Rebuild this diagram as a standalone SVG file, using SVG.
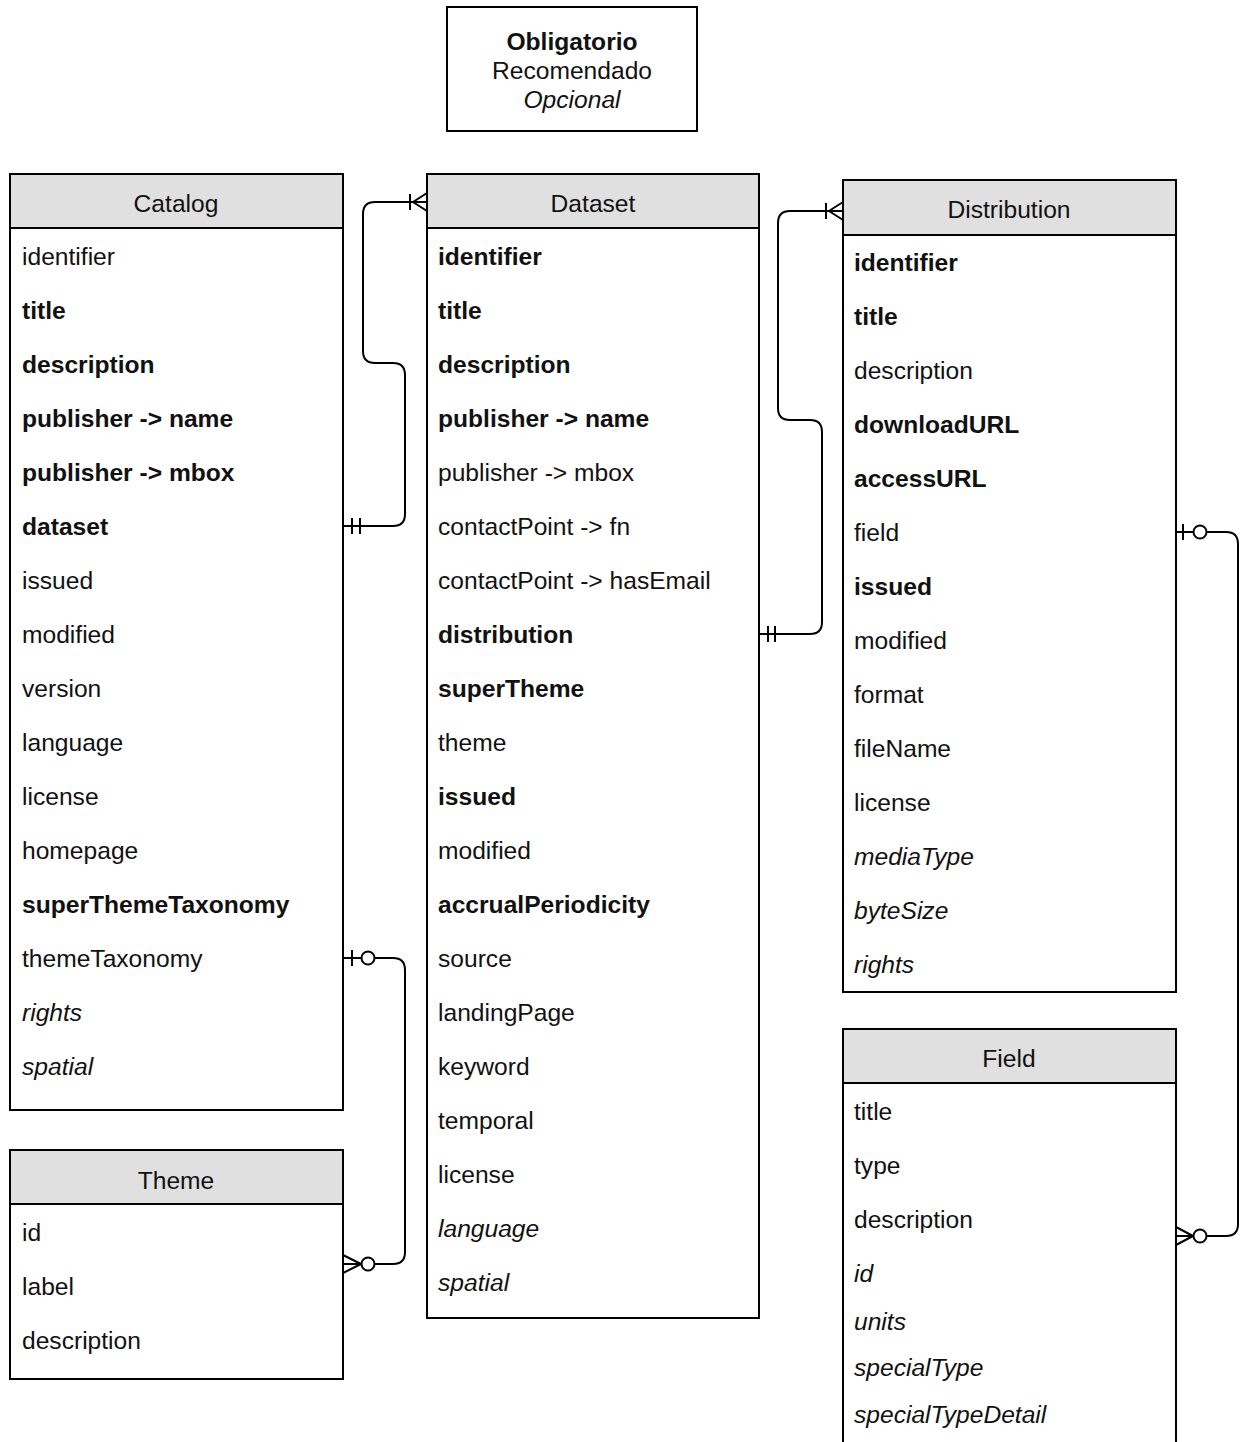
<svg xmlns="http://www.w3.org/2000/svg" width="1246" height="1442" viewBox="0 0 1246 1442">
<style>
.box{fill:#fff;stroke:#000;stroke-width:2}
.hdr{fill:#e0e0e0;stroke:#000;stroke-width:2}
text{font-family:"Liberation Sans",Arial,Helvetica,sans-serif;font-size:24.6px;fill:#111;dominant-baseline:central}
.t{text-anchor:middle}
.b{font-weight:bold}
.i{font-style:italic}
.c{fill:none;stroke:#000;stroke-width:2}
.o{fill:#fff;stroke:#000;stroke-width:2}
</style>
<rect width="1246" height="1442" fill="#fff"/>
<g id="legend">
<rect class="box" x="447" y="7" width="250" height="124"/>
<text class="t b" x="572" y="41">Obligatorio</text>
<text class="t" x="572" y="70">Recomendado</text>
<text class="t i" x="572" y="99">Opcional</text>
</g>
<g id="catalog">
<rect class="box" x="10" y="174" width="333" height="936"/>
<rect class="hdr" x="10" y="174" width="333" height="54"/>
<text class="t" x="176" y="203">Catalog</text>
<text x="22" y="256">identifier</text>
<text class="b" x="22" y="310">title</text>
<text class="b" x="22" y="364">description</text>
<text class="b" x="22" y="418">publisher -&gt; name</text>
<text class="b" x="22" y="472">publisher -&gt; mbox</text>
<text class="b" x="22" y="526">dataset</text>
<text x="22" y="580">issued</text>
<text x="22" y="634">modified</text>
<text x="22" y="688">version</text>
<text x="22" y="742">language</text>
<text x="22" y="796">license</text>
<text x="22" y="850">homepage</text>
<text class="b" x="22" y="904">superThemeTaxonomy</text>
<text x="22" y="958">themeTaxonomy</text>
<text class="i" x="22" y="1012">rights</text>
<text class="i" x="22" y="1066">spatial</text>
</g>
<g id="theme">
<rect class="box" x="10" y="1150" width="333" height="229"/>
<rect class="hdr" x="10" y="1150" width="333" height="54"/>
<text class="t" x="176" y="1180">Theme</text>
<text x="22" y="1232">id</text>
<text x="22" y="1286">label</text>
<text x="22" y="1340">description</text>
</g>
<g id="dataset">
<rect class="box" x="427" y="174" width="332" height="1144"/>
<rect class="hdr" x="427" y="174" width="332" height="54"/>
<text class="t" x="593" y="203">Dataset</text>
<text class="b" x="438" y="256">identifier</text>
<text class="b" x="438" y="310">title</text>
<text class="b" x="438" y="364">description</text>
<text class="b" x="438" y="418">publisher -&gt; name</text>
<text x="438" y="472">publisher -&gt; mbox</text>
<text x="438" y="526">contactPoint -&gt; fn</text>
<text x="438" y="580">contactPoint -&gt; hasEmail</text>
<text class="b" x="438" y="634">distribution</text>
<text class="b" x="438" y="688">superTheme</text>
<text x="438" y="742">theme</text>
<text class="b" x="438" y="796">issued</text>
<text x="438" y="850">modified</text>
<text class="b" x="438" y="904">accrualPeriodicity</text>
<text x="438" y="958">source</text>
<text x="438" y="1012">landingPage</text>
<text x="438" y="1066">keyword</text>
<text x="438" y="1120">temporal</text>
<text x="438" y="1174">license</text>
<text class="i" x="438" y="1228">language</text>
<text class="i" x="438" y="1282">spatial</text>
</g>
<g id="distribution">
<rect class="box" x="843" y="180" width="333" height="812"/>
<rect class="hdr" x="843" y="180" width="333" height="55"/>
<text class="t" x="1009" y="209">Distribution</text>
<text class="b" x="854" y="262">identifier</text>
<text class="b" x="854" y="316">title</text>
<text x="854" y="370">description</text>
<text class="b" x="854" y="424">downloadURL</text>
<text class="b" x="854" y="478">accessURL</text>
<text x="854" y="532">field</text>
<text class="b" x="854" y="586">issued</text>
<text x="854" y="640">modified</text>
<text x="854" y="694">format</text>
<text x="854" y="748">fileName</text>
<text x="854" y="802">license</text>
<text class="i" x="854" y="856">mediaType</text>
<text class="i" x="854" y="910">byteSize</text>
<text class="i" x="854" y="964">rights</text>
</g>
<g id="field">
<rect class="box" x="843" y="1029" width="333" height="440"/>
<rect class="hdr" x="843" y="1029" width="333" height="54"/>
<text class="t" x="1009" y="1058">Field</text>
<text x="854" y="1111">title</text>
<text x="854" y="1165">type</text>
<text x="854" y="1219">description</text>
<text class="i" x="854" y="1273">id</text>
<text class="i" x="854" y="1321">units</text>
<text class="i" x="854" y="1367">specialType</text>
<text class="i" x="854" y="1414">specialTypeDetail</text>
</g>
<g id="connectors">
<path class="c" d="M343,526 H393 Q405,526 405,514 V375 Q405,363 393,363 H375 Q363,363 363,351 V214 Q363,202 375,202 H427"/>
<path class="c" d="M352,518 V534 M360,518 V534 M410,194 V210 M413,202 L427,193 M413,202 H427 M413,202 L427,211"/>
<path class="c" d="M759,634 H810 Q822,634 822,622 V432 Q822,420 810,420 H790 Q778,420 778,408 V223 Q778,211 790,211 H843"/>
<path class="c" d="M768,626 V642 M775,626 V642 M826,203 V219 M829,211 L843,202 M829,211 H843 M829,211 L843,220"/>
<path class="c" d="M1176,532 H1226 Q1238,532 1238,544 V1224 Q1238,1236 1226,1236 H1176"/>
<path class="c" d="M1183,524 V540 M1193,1236 L1176,1227 M1193,1236 L1176,1245"/>
<circle class="o" cx="1200" cy="532" r="6.5"/>
<circle class="o" cx="1200" cy="1236" r="6.5"/>
<path class="c" d="M343,958 H393 Q405,958 405,970 V1252 Q405,1264 393,1264 H343"/>
<path class="c" d="M352,950 V966 M361,1264 L343,1255 M361,1264 L343,1273"/>
<circle class="o" cx="368" cy="958" r="6.5"/>
<circle class="o" cx="368" cy="1264" r="6.5"/>
</g>
</svg>
